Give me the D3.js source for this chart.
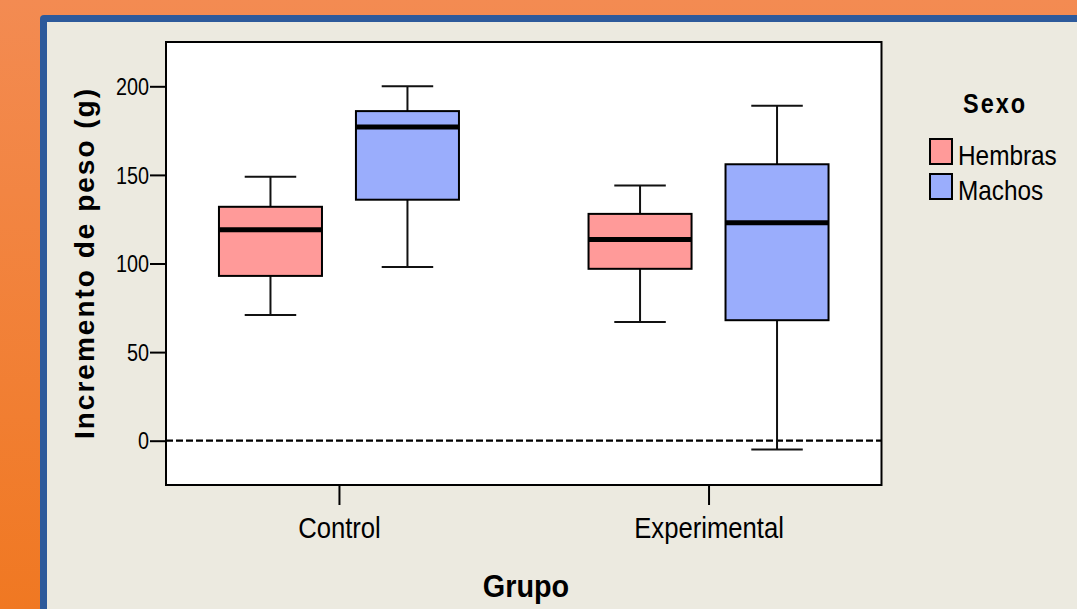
<!DOCTYPE html>
<html>
<head>
<meta charset="utf-8">
<script src="https://cdn.jsdelivr.net/npm/d3@7"></script>
<style>
  html, body { margin: 0; padding: 0; background: #ECEAE0; }
  svg { display: block; font-family: "Liberation Sans", Arial, sans-serif; }
</style>
</head>
<body>
<svg id="chart" width="1077" height="609"></svg>
<script>
// ---- data ----
const groups = ["Control", "Experimental"];
const series = ["Hembras", "Machos"];
const seriesColors = ["#FF9A99", "#9AADFC"];
const hembrasMin    = [71, 67];
const hembrasQ1     = [93, 97];
const hembrasMedian = [119, 113.5];
const hembrasQ3     = [132, 128];
const hembrasMax    = [149, 144];
const machosMin     = [98, -5];
const machosQ1      = [136, 68];
const machosMedian  = [177, 123];
const machosQ3      = [186, 156];
const machosMax     = [200, 189];
const yTicks = [0, 50, 100, 150, 200];
const yTitle = "Incremento de peso (g)";
const xTitle = "Grupo";
const legendTitle = "Sexo";

const boxes = [];
groups.forEach((g, i) => {
  boxes.push({group: g, series: "Hembras", min: hembrasMin[i], q1: hembrasQ1[i], med: hembrasMedian[i], q3: hembrasQ3[i], max: hembrasMax[i]});
  boxes.push({group: g, series: "Machos", min: machosMin[i], q1: machosQ1[i], med: machosMedian[i], q3: machosQ3[i], max: machosMax[i]});
});

const svg = d3.select("#chart");
const W = 1077, H = 609;

// ---- background decoration ----
const defs = svg.append("defs");
const grad = defs.append("linearGradient").attr("id", "bgGrad")
  .attr("x1", 0).attr("y1", 0).attr("x2", 0).attr("y2", 1);
grad.append("stop").attr("offset", "0%").attr("stop-color", "#F38B52");
grad.append("stop").attr("offset", "100%").attr("stop-color", "#F07822");
svg.append("rect").attr("width", W).attr("height", H).attr("fill", "url(#bgGrad)");
svg.append("rect").attr("x", 40).attr("y", 15).attr("width", W).attr("height", H)
  .attr("rx", 4).attr("fill", "#2D5A9B");
svg.append("rect").attr("x", 47).attr("y", 22).attr("width", W).attr("height", H)
  .attr("fill", "#ECEAE0");

// ---- plot area ----
const plot = {left: 166, right: 881.5, top: 42, bottom: 485};
const y = d3.scaleLinear().domain([-25, 225]).range([plot.bottom, plot.top]);
const x = d3.scalePoint().domain(groups).range([plot.left, plot.right]).padding(0.468);
const sub = d3.scaleBand().domain(series).range([-120, 120]).paddingInner(0.248).paddingOuter(0);
const color = d3.scaleOrdinal().domain(series).range(seriesColors);

svg.append("rect")
  .attr("x", plot.left).attr("y", plot.top)
  .attr("width", plot.right - plot.left).attr("height", plot.bottom - plot.top)
  .attr("fill", "#FFFFFF");

// reference line at 0
svg.append("line")
  .attr("x1", plot.left).attr("x2", plot.right)
  .attr("y1", y(0)).attr("y2", y(0))
  .attr("stroke", "#000").attr("stroke-width", 2.2)
  .attr("stroke-dasharray", "7,3");

// ---- boxes ----
const bw = sub.bandwidth();
const bg = svg.append("g").selectAll("g.box").data(boxes).join("g")
  .attr("class", "box")
  .attr("transform", d => `translate(${x(d.group) + sub(d.series)},0)`);

bg.append("line").attr("x1", bw / 2).attr("x2", bw / 2)
  .attr("y1", d => y(d.max)).attr("y2", d => y(d.q3))
  .attr("stroke", "#111").attr("stroke-width", 2);
bg.append("line").attr("x1", bw / 2).attr("x2", bw / 2)
  .attr("y1", d => y(d.q1)).attr("y2", d => y(d.min))
  .attr("stroke", "#111").attr("stroke-width", 2);
bg.append("line").attr("x1", bw / 4).attr("x2", bw * 3 / 4)
  .attr("y1", d => y(d.max)).attr("y2", d => y(d.max))
  .attr("stroke", "#111").attr("stroke-width", 2);
bg.append("line").attr("x1", bw / 4).attr("x2", bw * 3 / 4)
  .attr("y1", d => y(d.min)).attr("y2", d => y(d.min))
  .attr("stroke", "#111").attr("stroke-width", 2);
bg.append("rect").attr("x", 0).attr("width", bw)
  .attr("y", d => y(d.q3)).attr("height", d => y(d.q1) - y(d.q3))
  .attr("fill", d => color(d.series)).attr("stroke", "#000").attr("stroke-width", 2);
bg.append("line").attr("x1", 0).attr("x2", bw)
  .attr("y1", d => y(d.med)).attr("y2", d => y(d.med))
  .attr("stroke", "#000").attr("stroke-width", 5);

// frame
svg.append("rect")
  .attr("x", plot.left).attr("y", plot.top)
  .attr("width", plot.right - plot.left).attr("height", plot.bottom - plot.top)
  .attr("fill", "none").attr("stroke", "#000").attr("stroke-width", 2);

// ---- axes ----
const ySx = 0.86;
const yAxis = svg.append("g").attr("transform", `translate(${plot.left},0)`)
  .call(d3.axisLeft(y).tickValues(yTicks).tickSize(16).tickPadding(1).tickFormat(d3.format("d")));
yAxis.select(".domain").remove();
yAxis.selectAll(".tick line").attr("stroke", "#000").attr("stroke-width", 2);
yAxis.selectAll(".tick text")
  .attr("font-size", 23).attr("fill", "#000").attr("font-family", "Liberation Sans, Arial, sans-serif")
  .attr("x", -17 / ySx).attr("dy", "0.36em")
  .attr("transform", `scale(${ySx},1)`);

const xAxis = svg.append("g").attr("transform", `translate(0,${plot.bottom})`)
  .call(d3.axisBottom(x).tickSize(20).tickPadding(0));
xAxis.select(".domain").remove();
xAxis.selectAll(".tick line").attr("stroke", "#000").attr("stroke-width", 2);
xAxis.selectAll(".tick text")
  .attr("font-size", 29.5).attr("fill", "#000").attr("font-family", "Liberation Sans, Arial, sans-serif")
  .attr("y", 53).attr("dy", 0)
  .attr("transform", "scale(0.87,1)");

// axis titles
svg.append("text")
  .attr("transform", `translate(526,597) scale(0.9,1)`)
  .attr("text-anchor", "middle")
  .attr("font-size", 32).attr("font-weight", "bold").attr("fill", "#000")
  .text(xTitle);

svg.append("text")
  .attr("transform", `translate(94,263) rotate(-90)`)
  .attr("text-anchor", "middle")
  .attr("font-size", 28).attr("font-weight", "bold").attr("fill", "#000")
  .attr("letter-spacing", 2)
  .text(yTitle);

// ---- legend ----
const lg = svg.append("g");
lg.append("text").attr("transform", "translate(963,113) scale(0.87,1)")
  .attr("font-size", 27).attr("font-weight", "bold").attr("fill", "#000")
  .attr("letter-spacing", 2.3)
  .text(legendTitle);
const li = lg.selectAll("g.item").data(series).join("g")
  .attr("class", "item")
  .attr("transform", (d, i) => `translate(930,${139 + i * 35})`);
li.append("rect").attr("width", 22).attr("height", 25)
  .attr("fill", d => color(d)).attr("stroke", "#000").attr("stroke-width", 2);
li.append("text")
  .attr("transform", "translate(28,26) scale(0.87,1)")
  .attr("font-size", 28).attr("fill", "#000")
  .text(d => d);
</script>
</body>
</html>
